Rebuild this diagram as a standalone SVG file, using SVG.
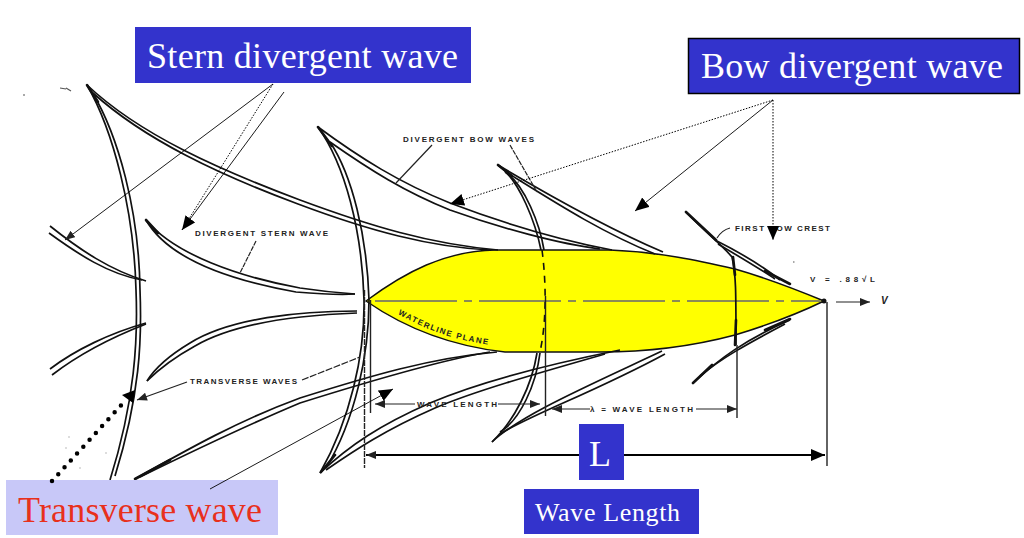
<svg xmlns="http://www.w3.org/2000/svg" width="1024" height="538" viewBox="0 0 1024 538">
<style>
.w{fill:none;stroke:#111;stroke-width:1.7}
.t{fill:none;stroke:#111;stroke-width:2.6;stroke-linecap:round}
.l{fill:none;stroke:#222;stroke-width:1.2}
.v{fill:none;stroke:#222;stroke-width:1.4}
.a{fill:none;stroke:#000;stroke-width:.9}
.d{fill:none;stroke:#000;stroke-width:1;stroke-dasharray:1.5 1.5}
.s{font-family:"Liberation Sans",Arial,sans-serif;font-size:8px;font-weight:bold;fill:#222}
.b{font-family:"Liberation Serif","Times New Roman",serif;fill:#fff}
</style>
<defs>
<marker id="ah" markerWidth="16" markerHeight="14" refX="14" refY="6" orient="auto" markerUnits="userSpaceOnUse"><path d="M0 0L14 6L0 12Z" fill="#000"/></marker>
<marker id="ahs" markerWidth="12" markerHeight="10" refX="10" refY="4" orient="auto" markerUnits="userSpaceOnUse"><path d="M0 0L10 4L0 8Z" fill="#222"/></marker>
<marker id="ahr" markerWidth="12" markerHeight="10" refX="0" refY="4" orient="auto" markerUnits="userSpaceOnUse"><path d="M10 0L0 4L10 8Z" fill="#222"/></marker>
<path id="wl" d="M398 314C420 326 445 339 497 346"/>
</defs>
<rect width="1024" height="538" fill="#fff"/>
<g id="hull">
<path d="M366 301C405 272 445 251 495 250L610 250C660 252 700 261 735 269C770 279 800 291 824 301C795 315 765 326 735 335C690 347 650 352 600 352L505 352C450 346 405 328 366 301Z" fill="#ff0" stroke="#111" stroke-width="1.500"/>
<path d="M375 301H821" fill="none" stroke="#8b8b55" stroke-width="1.800" stroke-dasharray="82 7 8 7"/>
<text class="s" style="letter-spacing:1.4px"><textPath href="#wl">WATERLINE   PLANE</textPath></text>
</g>
<g id="waves">
<path class="t" d="M87 85L98 102"/>
<path class="w" d="M87 85C113 130 134 210 136 290C138 340 135 400 110 480"/>
<path class="w" d="M92 92C118 135 139 210 140 290C142 340 140 395 115 476"/>
<path class="w" d="M87 85C140 135 220 170 300 200C370 226 430 244 498 250"/>
<path class="w" d="M93 93C145 140 220 175 298 204C370 231 430 247 490 250"/>
<path class="w" d="M50 226C80 250 110 270 146 281"/>
<path class="w" d="M49 233C78 254 108 274 142 280"/>
<path class="w" d="M146 220C175 255 240 277 300 288C320 291 340 293 355 294"/>
<path class="w" d="M146 220C170 262 240 282 296 292C320 294 340 295 355 294"/>
<path class="t" d="M146 220L158 233"/>
<path class="w" d="M357 311C300 311 230 318 190 343C170 355 155 368 147 381"/>
<path class="w" d="M357 313C300 315 235 323 195 346C175 357 160 368 147 381"/>
<path class="w" d="M146 323C110 333 75 350 50 369"/>
<path class="w" d="M146 324C110 338 78 355 52 375"/>
<path class="w" d="M135 479C190 448 240 420 300 398C370 376 430 358 497 352"/>
<path class="w" d="M140 477C195 450 245 426 300 403C370 381 440 360 490 352"/>
<path class="t" d="M135 479L170 460"/>
<path class="w" d="M318 127C345 165 362 230 364 300C365 355 350 420 320 473"/>
<path class="w" d="M330 142C352 175 367 235 369 300C369 355 355 420 326 468"/>
<path class="t" d="M318 127L332 146M321 472L335 455"/>
<path class="w" d="M318 127C360 158 400 183 450 203C500 222 560 240 612 250"/>
<path class="w" d="M330 142C370 170 405 192 450 210C500 228 560 244 600 249"/>
<path class="w" d="M320 473C350 445 380 425 430 403C470 386 530 368 620 350"/>
<path class="w" d="M326 470C355 450 385 430 435 408C475 391 535 374 605 354"/>
<path class="w" d="M498 165C520 180 536 225 541 250"/>
<path class="w" d="M505 172C525 185 540 225 544 250"/>
<path class="t" d="M498 165L512 176"/>
<path d="M542 250C546 280 547 320 540 352" fill="none" stroke="#111" stroke-width="1.600" stroke-dasharray="7 6"/>
<path class="w" d="M537 353C532 385 515 420 492 442"/>
<path class="w" d="M540 353C536 385 520 420 500 432"/>
<path class="w" d="M498 165C540 190 600 225 663 252"/>
<path class="w" d="M506 172C548 198 600 232 655 254"/>
<path class="w" d="M492 442C520 415 590 385 662 351"/>
<path class="w" d="M500 434C530 415 595 392 665 354"/>
<path class="w" d="M686 212C705 232 722 245 732 257C736 275 736 290 736 345"/>
<path class="t" d="M686 212L716 240M733 257L735 275M736 320L735 345"/>
<path class="w" d="M715 240C745 255 765 268 780 280"/>
<path class="w" d="M718 244C745 260 765 272 775 279"/>
<path class="t" d="M765 271L790 284"/>
<path class="w" d="M693 383C720 358 745 340 790 320"/>
<path class="w" d="M700 376C722 358 745 345 785 324"/>
<path class="t" d="M693 383L712 365M765 330L790 319"/>
<circle cx="824" cy="301" r="2.500" fill="#111"/>
<path d="M60 88l6 1M66 88l5 3M23 95h2M793 262h1.500" stroke="#555" stroke-width="1.200" fill="none"/>
<path d="M68 437h2M65 448h2M105 453h2M79 468h2" stroke="#bbb" stroke-width="1.200" fill="none"/>
</g>
<g id="dimensions">
<path class="v" d="M364.500 290V468" stroke-dasharray="6 1"/>
<path class="v" d="M370.500 300V413"/>
<path class="v" d="M545.500 296V416" stroke-width="1"/>
<path class="v" d="M737 345V418"/>
<path class="v" d="M827 302V466"/>
<path class="l" d="M836 302H870" stroke-width="1.500" marker-end="url(#ahs)"/>
<path class="l" d="M375 404H415" marker-start="url(#ahr)"/>
<path class="l" d="M498 404H540" marker-end="url(#ahs)"/>
<path class="l" d="M552 409H590" marker-start="url(#ahr)"/>
<path class="l" d="M696 409H737" marker-end="url(#ahs)"/>
<path d="M366 455H825" fill="none" stroke="#000" stroke-width="2" marker-start="url(#ahr)" marker-end="url(#ah)"/>
</g>
<g id="printed-labels">
<text class="s" x="195" y="236" textLength="133">DIVERGENT STERN WAVE</text>
<text class="s" x="403" y="142" textLength="131">DIVERGENT BOW WAVES</text>
<text class="s" x="735" y="231" textLength="95">FIRST BOW CREST</text>
<text class="s" x="190" y="384" textLength="107">TRANSVERSE WAVES</text>
<text class="s" x="417" y="407" textLength="80">WAVE LENGTH</text>
<text class="s" x="590" y="412" textLength="103">λ = WAVE LENGTH</text>
<text class="s" x="810" y="282" textLength="65">V =  .88√L</text>
<text class="s" x="881" y="304" style="font-size:10px;font-style:italic">V</text>
<path class="l" d="M256 241L240 273" stroke-dasharray="5 1"/>
<path class="l" d="M432 145L396 183"/>
<path class="l" d="M510 145L537 192" stroke-dasharray="5 1"/>
<path class="l" d="M730 228Q722 230 717 238"/>
<path class="l" d="M137 400L187 382" marker-start="url(#ahr)"/>
<path class="l" d="M302 380L360 357" stroke-dasharray="7 1.500"/>
</g>
<g id="transverse-box"><rect x="6" y="480" width="272" height="55" fill="#c8c8f8"/><text class="b" x="18" y="522" font-size="36" textLength="244" style="fill:#e8301c">Transverse wave</text></g>
<g id="connectors">
<path class="a" d="M273 84L65 240" marker-end="url(#ahs)"/>
<path class="d" d="M273 84L182 230"/>
<path class="a" d="M284 92L182 230" stroke-width="1.100" marker-end="url(#ah)"/>
<path class="d" d="M773 100L450 204" marker-end="url(#ah)"/>
<path class="a" d="M773 100L635 211" marker-end="url(#ah)"/>
<path class="d" d="M773 100V240" marker-end="url(#ah)"/>
<path d="M52 481L124 402" fill="none" stroke="#000" stroke-width="4.500" stroke-linecap="round" stroke-dasharray="0 9.300"/>
<path d="M122 395L135 390L133 403Z" fill="#000"/>
<path d="M210 489L393 389" class="a" stroke-width="1.100" marker-end="url(#ah)"/>
</g>
<g id="stern-box"><rect x="135" y="27" width="336" height="56" fill="#3333cc"/><text class="b" x="147" y="68" font-size="36" textLength="311">Stern divergent wave</text></g>
<g id="bow-box"><rect x="688.500" y="38.500" width="331" height="55" fill="#3333cc" stroke="#000" stroke-width="1.500"/><text class="b" x="701" y="78" font-size="36" textLength="302">Bow divergent wave</text></g>
<g id="l-box"><rect x="579" y="424" width="45" height="56" fill="#3333cc"/><text class="b" x="589" y="466" font-size="36">L</text></g>
<g id="wavelength-box"><rect x="524" y="489" width="175" height="45" fill="#3333cc"/><text class="b" x="535" y="521" font-size="26" textLength="145">Wave Length</text></g>
</svg>
